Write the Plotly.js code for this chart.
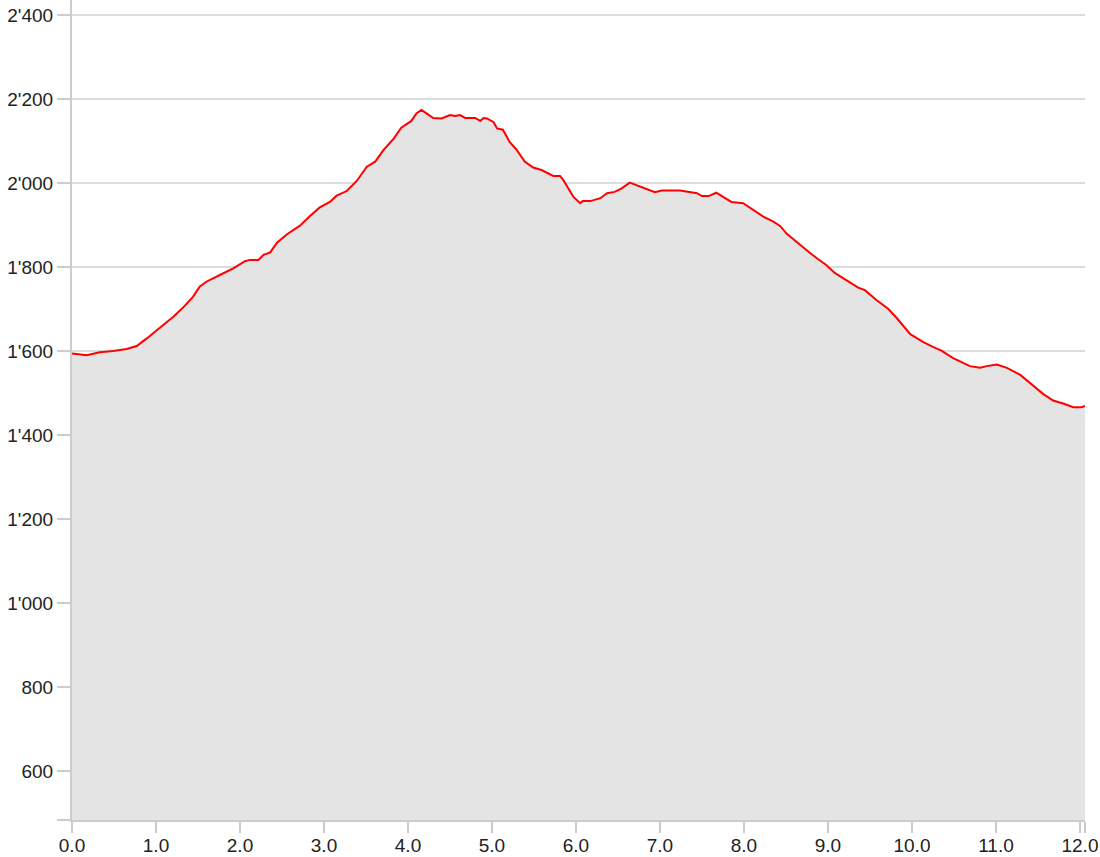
<!DOCTYPE html>
<html>
<head>
<meta charset="utf-8">
<script src="https://cdn.plot.ly/plotly-3.0.1.min.js"></script>
<style>html,body{margin:0;padding:0;background:#fff;}#chart{width:1100px;height:857px;}</style>
</head>
<body>
<div id="chart"></div>
<script>
// distance along route (km)
const distance = [0, 0.175, 0.33, 0.49, 0.65, 0.77, 0.89, 1.05, 1.21, 1.33, 1.44, 1.52, 1.60, 1.76, 1.92, 2.06, 2.12, 2.22, 2.28, 2.36, 2.44, 2.56, 2.71, 2.83, 2.95, 3.07, 3.15, 3.27, 3.39, 3.51, 3.61, 3.71, 3.83, 3.92, 3.98, 4.04, 4.10, 4.16, 4.22, 4.30, 4.40, 4.50, 4.56, 4.62, 4.68, 4.80, 4.86, 4.90, 4.94, 5.02, 5.06, 5.13, 5.21, 5.29, 5.39, 5.49, 5.59, 5.65, 5.73, 5.81, 5.85, 5.97, 6.05, 6.08, 6.17, 6.29, 6.37, 6.46, 6.54, 6.64, 6.74, 6.84, 6.94, 7.02, 7.10, 7.16, 7.24, 7.34, 7.44, 7.50, 7.58, 7.67, 7.75, 7.85, 7.99, 8.11, 8.23, 8.35, 8.43, 8.51, 8.67, 8.79, 8.88, 8.98, 9.08, 9.22, 9.36, 9.44, 9.58, 9.72, 9.82, 9.98, 10.13, 10.25, 10.35, 10.49, 10.69, 10.81, 10.89, 11.01, 11.13, 11.29, 11.44, 11.56, 11.68, 11.80, 11.92, 12.02, 12.06];
// elevation (m)
const elevation = [1594, 1590, 1597, 1600, 1605, 1612, 1630, 1655, 1682, 1705, 1729, 1753, 1765, 1781, 1797, 1814, 1817, 1817, 1829, 1835, 1858, 1878, 1898, 1921, 1942, 1955, 1970, 1981, 2005, 2039, 2051, 2079, 2106, 2132, 2140, 2148, 2166, 2174, 2166, 2155, 2154, 2162, 2160, 2162, 2155, 2155, 2148, 2155, 2154, 2145, 2130, 2127, 2098, 2080, 2051, 2037, 2031, 2025, 2017, 2017, 2007, 1967, 1952, 1957, 1957, 1964, 1976, 1979, 1987, 2001, 1993, 1986, 1978, 1982, 1983, 1982, 1982, 1979, 1976, 1969, 1969, 1977, 1967, 1955, 1952, 1936, 1920, 1908, 1898, 1879, 1852, 1833, 1819, 1805, 1786, 1769, 1751, 1745, 1721, 1700, 1678, 1640, 1622, 1610, 1601, 1583, 1564, 1560, 1564, 1568, 1560, 1543, 1519, 1498, 1482, 1475, 1466, 1466, 1469];

const xTickVals = [0,1,2,3,4,5,6,7,8,9,10,11,12,12.06];
const xTickText = ["0.0","1.0","2.0","3.0","4.0","5.0","6.0","7.0","8.0","9.0","10.0","11.0","12.0",""];
const yTickVals = [483,600,800,1000,1200,1400,1600,1800,2000,2200,2400];
const yTickText = ["","600","800","1'000","1'200","1'400","1'600","1'800","2'000","2'200","2'400"];

const trace = {
  x: distance, y: elevation, type: 'scatter', mode: 'lines',
  line: {color: '#ff0000', width: 2},
  fill: 'tozeroy', fillcolor: '#e4e4e4',
  hoverinfo: 'skip'
};

const layout = {
  width: 1100, height: 857,
  margin: {l: 72, r: 15, t: 0, b: 37, pad: 0},
  paper_bgcolor: '#fff', plot_bgcolor: '#fff',
  showlegend: false,
  font: {family: '"Liberation Sans", Arial, sans-serif', size: 19, color: '#222'},
  xaxis: {
    range: [0, 12.06], tickmode: 'array', tickvals: xTickVals, ticktext: xTickText,
    showgrid: false, zeroline: false, showline: true, linecolor: '#ccc', linewidth: 2,
    ticks: 'outside', ticklen: 11, tickcolor: '#ccc', tickwidth: 2,
    ticklabelstandoff: -4
  },
  yaxis: {
    range: [483, 2436], tickmode: 'array', tickvals: yTickVals, ticktext: yTickText,
    showgrid: true, gridcolor: '#dcdcdc', gridwidth: 1.5, zeroline: false,
    showline: true, linecolor: '#ccc', linewidth: 2,
    ticks: 'outside', ticklen: 13, tickcolor: '#ccc', tickwidth: 2
  }
};

Plotly.newPlot('chart', [trace], layout, {staticPlot: true, displayModeBar: false});
</script>
</body>
</html>
